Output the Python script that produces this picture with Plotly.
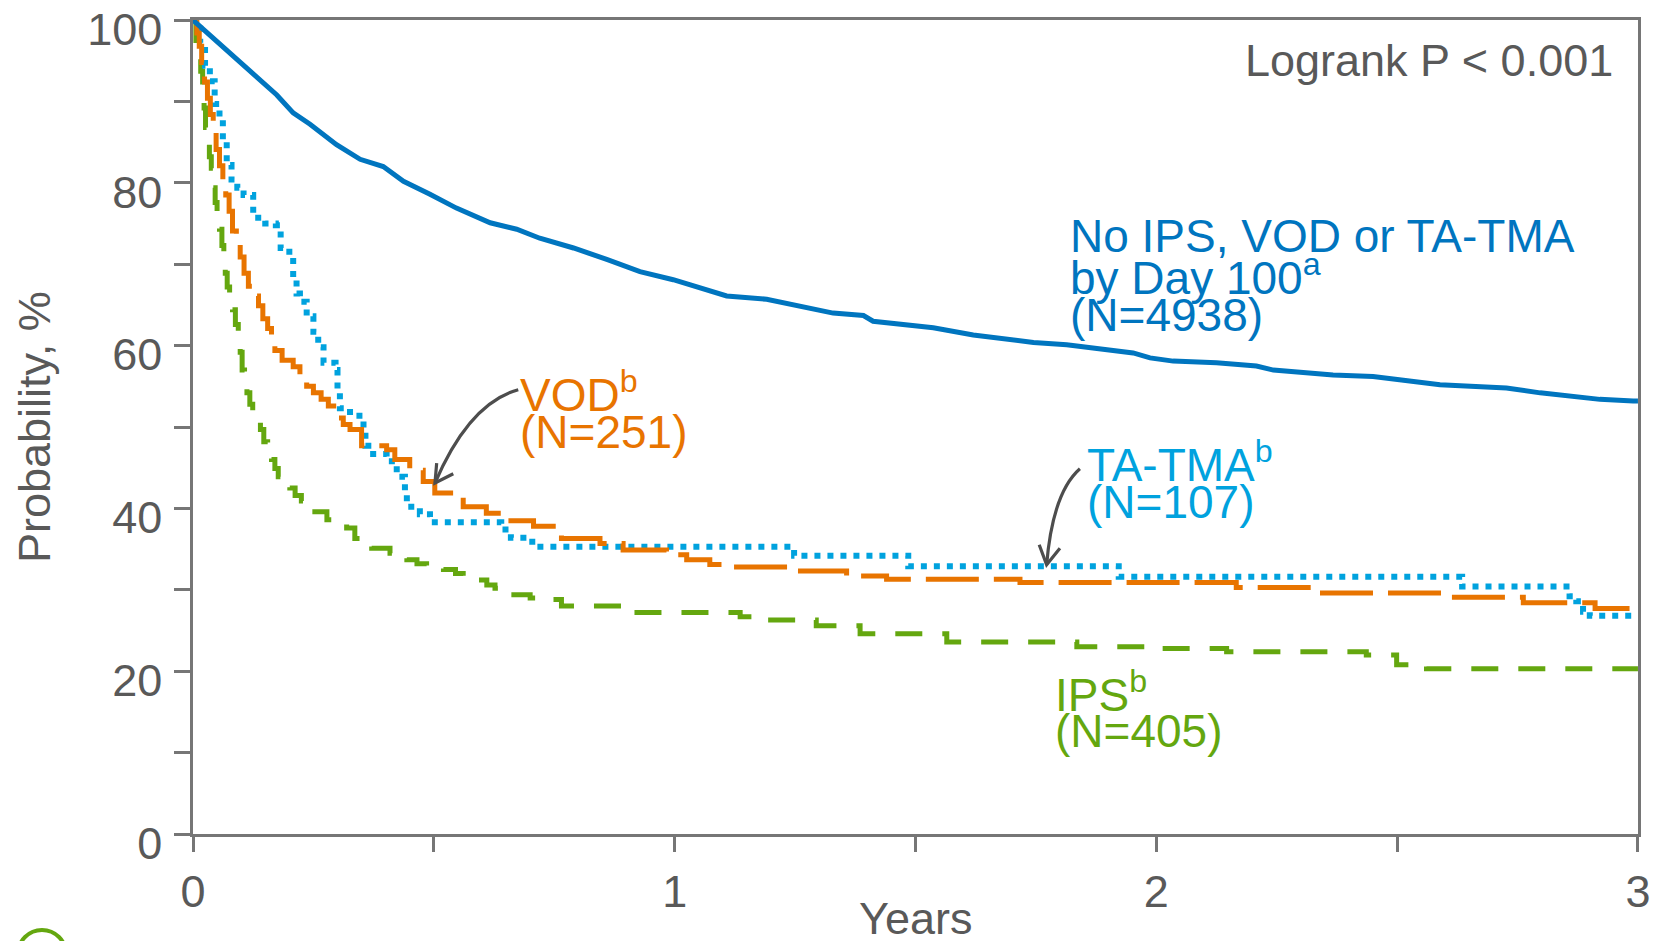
import plotly.graph_objects as go

# ---- Kaplan-Meier estimates (years, % surviving) ----
no_event_t = [0, 0.049, 0.098, 0.132, 0.174, 0.208, 0.243, 0.298, 0.347, 0.395, 0.437, 0.492,
              0.547, 0.617, 0.672, 0.720, 0.790, 0.859, 0.928, 0.997, 1.053, 1.108, 1.191,
              1.260, 1.329, 1.392, 1.412, 1.537, 1.620, 1.745, 1.814, 1.952, 1.987, 2.035,
              2.125, 2.208, 2.243, 2.367, 2.450, 2.589, 2.727, 2.797, 2.921, 2.990, 3.0]
no_event_s = [100, 97.4, 94.9, 93.1, 90.8, 88.6, 87.2, 84.7, 82.9, 82.0, 80.2, 78.6,
              76.9, 75.1, 74.3, 73.2, 72.0, 70.6, 69.1, 68.1, 67.1, 66.1, 65.7,
              64.8, 64.0, 63.7, 63.0, 62.2, 61.3, 60.4, 60.1, 59.1, 58.5, 58.1,
              57.9, 57.5, 57.0, 56.4, 56.2, 55.2, 54.8, 54.2, 53.4, 53.2, 53.2]

vod_t = [0, 0.008, 0.013, 0.018, 0.024, 0.030, 0.036, 0.042, 0.048, 0.055, 0.062, 0.068,
         0.075, 0.082, 0.090, 0.098, 0.106, 0.115, 0.125, 0.136, 0.145, 0.155, 0.163,
         0.170, 0.185, 0.208, 0.222, 0.236, 0.250, 0.266, 0.281, 0.298, 0.312, 0.326,
         0.350, 0.402, 0.419, 0.450, 0.478, 0.502, 0.561, 0.609, 0.651, 0.707, 0.765,
         0.845, 0.893, 0.983, 1.025, 1.073, 1.101, 1.236, 1.357, 1.440, 1.717, 2.166,
         2.337, 2.600, 2.762, 2.911, 3.0]
vod_s = [100, 98.4, 96.8, 94.8, 92.4, 90.4, 88.4, 86.5, 84.1, 82.1, 80.1, 78.5,
         76.5, 74.1, 72.5, 70.9, 68.9, 67.3, 66.1, 64.9, 63.3, 62.1, 61.3,
         59.4, 58.2, 57.4, 56.2, 55.0, 54.2, 53.4, 52.6, 51.1, 50.3, 49.7,
         47.7, 47.2, 46.0, 44.7, 43.3, 41.9, 40.2, 39.4, 38.5, 37.8, 36.3,
         35.7, 34.9, 34.3, 33.7, 33.1, 32.8, 32.3, 31.7, 31.3, 30.9, 30.3,
         29.6, 29.1, 28.4, 27.7, 27.7]

tma_t = [0, 0.015, 0.025, 0.035, 0.045, 0.055, 0.062, 0.070, 0.080, 0.092, 0.105, 0.125,
         0.150, 0.172, 0.182, 0.200, 0.208, 0.215, 0.222, 0.236, 0.250, 0.260, 0.271,
         0.296, 0.300, 0.305, 0.326, 0.354, 0.358, 0.374, 0.402, 0.423, 0.440, 0.444,
         0.471, 0.492, 0.640, 0.660, 0.686, 0.714, 1.248, 1.485, 1.922, 2.635, 2.858,
         2.872, 2.886, 2.900, 3.0]
tma_s = [100, 97.2, 94.4, 92.5, 89.7, 87.9, 85.0, 82.2, 80.4, 79.4, 78.5, 75.7,
         75.0, 74.8, 72.0, 71.0, 68.2, 66.4, 65.4, 63.6, 61.7, 59.8, 57.9,
         57.0, 54.2, 52.3, 51.4, 49.5, 47.7, 46.7, 45.8, 43.9, 42.0, 40.2,
         39.3, 38.3, 37.4, 36.4, 35.9, 35.3, 34.2, 32.9, 31.6, 30.4, 29.2,
         28.6, 27.3, 26.8, 26.8]

ips_t = [0, 0.006, 0.011, 0.016, 0.020, 0.023, 0.026, 0.030, 0.034, 0.038, 0.042, 0.046,
         0.050, 0.055, 0.060, 0.064, 0.067, 0.071, 0.076, 0.082, 0.088, 0.094, 0.098,
         0.102, 0.107, 0.112, 0.118, 0.124, 0.132, 0.140, 0.147, 0.155, 0.163, 0.170,
         0.177, 0.190, 0.201, 0.212, 0.225, 0.240, 0.253, 0.278, 0.300, 0.319, 0.336,
         0.355, 0.371, 0.409, 0.425, 0.444, 0.465, 0.485, 0.520, 0.545, 0.561, 0.589,
         0.610, 0.627, 0.650, 0.700, 0.741, 0.765, 0.890, 1.136, 1.190, 1.294, 1.385,
         1.565, 1.835, 1.980, 2.146, 2.436, 2.499, 2.561, 3.0]
ips_s = [100, 97.5, 95.8, 93.7, 91.5, 89.2, 86.8, 85.0, 83.2, 81.8, 79.4, 77.6,
         75.8, 74.3, 72.3, 70.5, 68.9, 67.2, 65.6, 64.4, 62.6, 61.0, 59.2,
         57.0, 55.6, 54.2, 52.8, 51.7, 50.8, 49.7, 48.2, 47.0, 46.0, 44.9,
         43.9, 43.1, 42.5, 41.6, 40.9, 40.2, 39.6, 38.6, 38.1, 37.6, 36.3,
         35.6, 35.1, 34.5, 34.0, 33.7, 33.2, 32.9, 32.5, 32.0, 31.6, 31.2,
         30.6, 30.2, 29.4, 29.0, 28.8, 28.0, 27.2, 26.7, 26.3, 25.6, 24.6,
         23.6, 23.0, 22.8, 22.4, 22.0, 20.8, 20.3, 20.3]

x_ticks = [0, 1, 2, 3]
y_ticks = [0, 20, 40, 60, 80, 100]

BLUE = "#0075BF"
LIGHT_BLUE = "#00A2DE"
ORANGE = "#E87400"
GREEN = "#64A70F"
GREY_TXT = "#595959"
AXIS = "#767676"
ARROW = "#4D4D4D"
FONT = "Arial, Liberation Sans, sans-serif"

fig = go.Figure()

fig.add_trace(go.Scatter(x=ips_t, y=ips_s, mode="lines", line_shape="hv",
                         line=dict(color=GREEN, width=5, dash="27px,20px"), name="IPS"))
fig.add_trace(go.Scatter(x=tma_t, y=tma_s, mode="lines", line_shape="hv",
                         line=dict(color=LIGHT_BLUE, width=6, dash="6px,7px"), name="TA-TMA"))
fig.add_trace(go.Scatter(x=vod_t, y=vod_s, mode="lines", line_shape="hv",
                         line=dict(color=ORANGE, width=5, dash="53px,15px"), name="VOD"))
fig.add_trace(go.Scatter(x=no_event_t, y=no_event_s, mode="lines",
                         line=dict(color=BLUE, width=5), name="No IPS, VOD or TA-TMA"))

axis_common = dict(
    showline=True, linecolor=AXIS, linewidth=2.5, mirror=True, automargin=False,
    showgrid=False, zeroline=False, ticks="outside", tickcolor=AXIS, tickwidth=2.5,
    ticklabeloverflow="allow",
    tickfont=dict(family=FONT, size=45, color=GREY_TXT),
)

fig.update_xaxes(range=[0, 3.0001], tickvals=x_ticks, ticklen=15, ticklabelstandoff=1,
                 minor=dict(tickvals=[0.5, 1.5, 2.5], ticks="outside", ticklen=15,
                            tickwidth=2.5, tickcolor=AXIS),
                 **axis_common)
fig.update_yaxes(range=[0, 100.01], tickvals=y_ticks, ticklen=16, ticklabelstandoff=3,
                 ticklabelshift=9,
                 minor=dict(tickvals=[10, 30, 50, 70, 90], ticks="outside", ticklen=16,
                            tickwidth=2.5, tickcolor=AXIS),
                 **axis_common)

# axis titles
fig.add_annotation(x=0.5, y=-0.1044, xref="paper", yref="paper", text="Years",
                   showarrow=False, xanchor="center", yanchor="middle",
                   font=dict(family=FONT, size=45, color=GREY_TXT))
fig.add_annotation(x=-0.110, y=0.5, xref="paper", yref="paper", text="Probability, %",
                   showarrow=False, xanchor="center", yanchor="middle", textangle=-90,
                   font=dict(family=FONT, size=45, color=GREY_TXT))


def label(x, y, text, color, size=46):
    fig.add_annotation(x=x, y=y, xref="x", yref="y", text=text, showarrow=False,
                       xanchor="left", yanchor="middle",
                       font=dict(family=FONT, size=size, color=color))


label(1.816, 73.5, "No IPS, VOD or TA-TMA", BLUE)
label(1.816, 68.7, "by Day 100<sup>a</sup>", BLUE)
label(1.816, 63.8, "(N=4938)", BLUE)
label(0.675, 54.3, "VOD<sup>b</sup>", ORANGE)
label(0.675, 49.4, "(N=251)", ORANGE)
label(1.852, 45.7, "TA-TMA<sup>b</sup>", LIGHT_BLUE)
label(1.852, 40.8, "(N=107)", LIGHT_BLUE)
label(1.785, 17.5, "IPS<sup>b</sup>", GREEN)
label(1.785, 12.7, "(N=405)", GREEN)

fig.add_annotation(x=2.952, y=95.0, xref="x", yref="y", text="Logrank P < 0.001",
                   showarrow=False, xanchor="right", yanchor="middle",
                   font=dict(family=FONT, size=45, color=GREY_TXT))

# curved call-out arrows (curve + open arrowhead)
arrow_style = dict(type="path", xref="x", yref="y", line=dict(color=ARROW, width=3.2))
fig.add_shape(path="M 0.6753,54.58 Q 0.5736,52.95 0.5024,43.12", **arrow_style)
fig.add_shape(path="M 0.5059,45.57 L 0.5024,43.12 L 0.5404,44.26", **arrow_style)
fig.add_shape(path="M 1.8414,44.87 Q 1.7847,41.92 1.7723,33.07", **arrow_style)
fig.add_shape(path="M 1.7569,35.53 L 1.7723,33.07 L 1.7999,35.12", **arrow_style)

# partly visible round badge at the lower-left edge
fig.add_shape(type="circle", xref="paper", yref="paper",
              x0=-0.1211, x1=-0.0879, y0=-0.1769, y1=-0.1179,
              line=dict(color=GREEN, width=4), fillcolor="white")

fig.update_layout(
    width=1661, height=941,
    margin=dict(l=193, r=23, t=20, b=107),
    paper_bgcolor="white", plot_bgcolor="white",
    showlegend=False,
    font=dict(family=FONT, color=GREY_TXT),
)

fig.write_html("out.html")
